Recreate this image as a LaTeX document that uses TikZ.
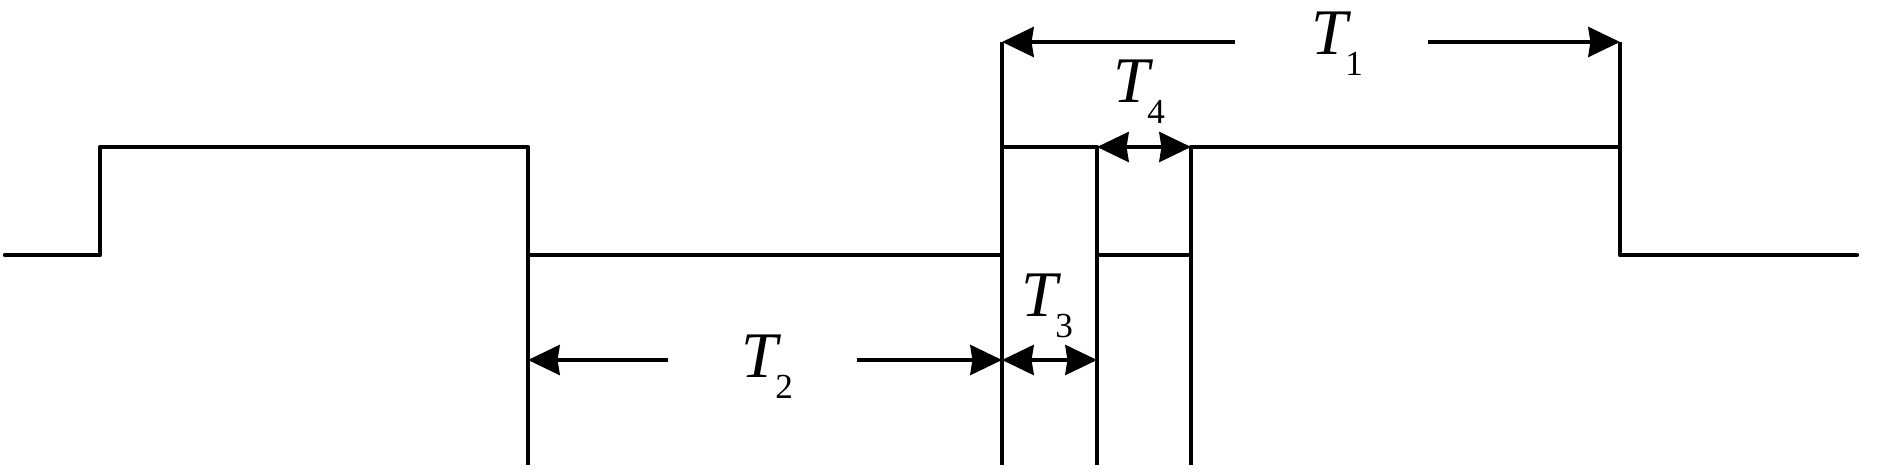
\documentclass[tikz,border=0pt]{standalone}
\usepackage{fontspec}
\setmainfont{Liberation Serif}
\usetikzlibrary{arrows.meta}

\newcommand{\Tlab}[1]{\textit{T}\kern-1.8pt\raisebox{-5.8pt}{\fontsize{10}{10}\selectfont #1}}

\begin{document}
\begin{tikzpicture}[
    x=0.01cm, y=-0.01cm,
    >={Stealth[length=9pt,width=8.5pt,inset=0.6pt]},
    signal/.style = {line width=1.25pt, line join=round, line cap=round},
    guide/.style  = {line width=1pt},
    dim/.style    = {line width=1.2pt},
    tlabel/.style = {anchor=base west, inner sep=0pt, font=\fontsize{18.5}{18.5}\selectfont},
  ]
	\useasboundingbox (0,0) rectangle (1890,474);

	\def\hi{147} % hoher Pegel
	\def\lo{255} % niedriger Pegel

	% Flanken
	\coordinate (R1) at (100,\hi);
	\coordinate (F1) at (528,\hi); % erste fallende Flanke
	\coordinate (R2) at (1002,\hi); % Beginn T1
	\coordinate (F2) at (1097,\hi);
	\coordinate (R3) at (1191,\hi);
	\coordinate (F3) at (1620,\hi); % Ende T1

	% Signal
	\draw[signal] (5,\lo) -- (R1|-0,\lo) -- (R1) -- (F1) -- (F1|-0,\lo)
		-- (R2|-0,\lo) -- (R2) -- (F2) -- (F2|-0,\lo) -- (R3|-0,\lo) -- (R3)
		-- (F3) -- (F3|-0,\lo) -- (1857,\lo);

	% Hilfslinien
	\coordinate (F1u) at (528,465);
	\coordinate (R2o) at (1002,42);
	\coordinate (R2u) at (1002,465);
	\coordinate (F2u) at (1097,465);
	\coordinate (R3u) at (1191,465);
	\coordinate (F3o) at (1620,42);
	\draw[guide] (F1) -- (F1u);
	\draw[guide] (R2o) -- (R2u);
	\draw[guide] (F2) -- (F2u);
	\draw[guide] (R3) -- (R3u);
	\draw[guide] (F3o) -- (F3);

	% T1
	\draw[dim,->] (1235,42) -- (R2o);
	\draw[dim,->] (1428,42) -- (F3o);
	\node[tlabel] (t1) at (1311,55) {\Tlab{1}};

	% T2
	\coordinate (P2l) at (528,360);
	\coordinate (P2r) at (1002,360);
	\draw[dim,->] (668,360) -- (P2l);
	\draw[dim,->] (857,360) -- (P2r);
	\node[tlabel] (t2) at (741,378) {\Tlab{2}};

	% T3
	\coordinate (P3r) at (1097,360);
	\draw[dim,<->] (P2r) -- (P3r);
	\node[tlabel] (t3) at (1021,317) {\Tlab{3}};

	% T4
	\draw[dim,<->] (F2) -- (R3);
	\node[tlabel] (t4) at (1113,103) {\Tlab{4}};

\end{tikzpicture}
\end{document}
